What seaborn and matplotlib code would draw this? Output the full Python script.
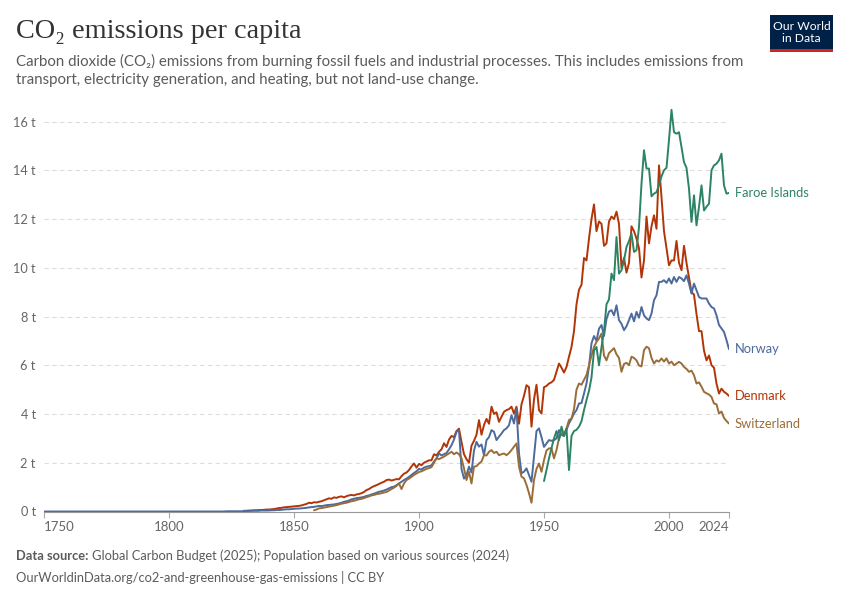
import matplotlib
matplotlib.use("Agg")
import matplotlib.pyplot as plt
import pandas as pd
import seaborn as sns
from matplotlib.patches import Rectangle

# ── Data: CO2 per capita (tonnes) ───────────────────────────────────────────
NORWAY_START = 1750
norway = [
    # 1750-1829: flat at zero
    0.0, 0.0, 0.0, 0.0, 0.0, 0.0, 0.0, 0.0, 0.0, 0.0,
    0.0, 0.0, 0.0, 0.0, 0.0, 0.0, 0.0, 0.0, 0.0, 0.0,
    0.0, 0.0, 0.0, 0.0, 0.0, 0.0, 0.0, 0.0, 0.0, 0.0,
    0.0, 0.0, 0.0, 0.0, 0.0, 0.0, 0.0, 0.0, 0.0, 0.0,
    0.0, 0.0, 0.0, 0.0, 0.0, 0.0, 0.0, 0.0, 0.0, 0.0,
    0.0, 0.0, 0.0, 0.0, 0.0, 0.0, 0.0, 0.0, 0.0, 0.0,
    0.0, 0.0, 0.0, 0.0, 0.0, 0.0, 0.0, 0.0, 0.0, 0.0,
    0.0, 0.0, 0.0, 0.01, 0.01, 0.01, 0.01, 0.01, 0.01, 0.01,
    0.02, 0.02, 0.02, 0.03, 0.03, 0.03, 0.03, 0.04, 0.04, 0.04,  # 1830s
    0.04, 0.05, 0.05, 0.06, 0.06, 0.07, 0.08, 0.09, 0.09, 0.10,
    0.11, 0.12, 0.12, 0.13, 0.14, 0.15, 0.17, 0.18, 0.19, 0.21,
    0.23, 0.22, 0.24, 0.26, 0.27, 0.28, 0.29, 0.31, 0.33, 0.36,
    0.40, 0.42, 0.45, 0.50, 0.52, 0.55, 0.56, 0.58, 0.60, 0.64,
    0.66, 0.70, 0.73, 0.77, 0.81, 0.83, 0.86, 0.90, 0.95, 1.00,
    1.02, 1.08, 1.15, 1.22, 1.29, 1.35, 1.42, 1.50, 1.58, 1.65,
    1.75, 1.72, 1.80, 1.84, 1.86, 1.90, 2.05, 2.18, 2.38, 2.30,  # 1900s
    2.35, 2.40, 2.55, 2.72, 2.95, 3.27, 3.34, 1.75, 1.35, 1.50,
    1.84, 1.60, 2.50, 2.86, 2.66, 2.75, 2.31, 2.93, 3.05, 3.34,
    3.27, 2.93, 3.07, 3.20, 3.34, 3.41, 3.54, 3.95, 3.61, 4.23,
    2.38, 1.57, 1.63, 1.77, 1.50, 1.22, 2.25, 3.30, 3.41, 3.05,
    2.65, 2.79, 2.93, 2.90, 2.93, 3.00, 3.34, 3.14, 3.10, 3.35,
    3.62, 3.80, 4.02, 4.16, 4.43, 4.45, 4.84, 5.25, 5.95, 6.90,
    7.20, 7.00, 7.50, 7.65, 7.20, 7.90, 8.20, 8.26, 8.05, 8.46,
    7.85, 7.70, 7.44, 7.60, 7.85, 8.12, 7.80, 8.19, 7.95, 8.39,
    8.05, 7.92, 7.85, 8.12, 8.67, 8.87, 9.42, 9.42, 9.49, 9.38,
    9.56, 9.35, 9.62, 9.42, 9.62, 9.56, 9.45, 9.69, 9.35, 8.94,  # 2000s
    9.35, 9.08, 8.80, 8.74, 8.74, 8.74, 8.53, 8.39, 8.33, 8.05,
    7.65, 7.51, 7.37, 7.03, 6.66,
]

DENMARK_START = 1830
denmark = [
    0.03, 0.03, 0.04, 0.04, 0.05, 0.05, 0.06, 0.06, 0.07, 0.08,  # 1830s
    0.08, 0.09, 0.10, 0.12, 0.14, 0.15, 0.17, 0.18, 0.19, 0.20,
    0.21, 0.22, 0.23, 0.25, 0.28, 0.31, 0.36, 0.34, 0.38, 0.37,
    0.40, 0.42, 0.46, 0.50, 0.54, 0.52, 0.58, 0.56, 0.60, 0.62,
    0.58, 0.63, 0.66, 0.68, 0.66, 0.70, 0.72, 0.75, 0.80, 0.88,
    0.92, 0.99, 1.04, 1.08, 1.13, 1.18, 1.22, 1.29, 1.31, 1.27,
    1.30, 1.33, 1.32, 1.45, 1.55, 1.60, 1.70, 1.85, 1.97, 1.80,
    1.95, 1.90, 2.00, 2.05, 2.10, 2.10, 2.35, 2.30, 2.45, 2.55,  # 1900s
    2.80, 2.65, 2.95, 3.10, 3.05, 3.30, 3.40, 2.85, 2.35, 2.15,
    2.00, 2.70, 2.90, 3.15, 3.75, 3.15, 3.55, 3.80, 3.60, 4.30,
    4.00, 4.07, 3.68, 3.89, 4.09, 4.16, 4.20, 4.30, 4.02, 4.30,
    3.60, 4.40, 4.75, 5.18, 5.10, 3.48, 4.60, 5.20, 4.16, 4.02,
    5.10, 5.15, 5.25, 5.30, 5.40, 5.73, 6.07, 5.90, 5.70, 5.93,
    6.35, 6.75, 7.40, 8.50, 9.10, 9.30, 10.40, 10.30, 11.20, 12.00,
    12.60, 11.50, 11.90, 11.80, 10.90, 11.00, 11.90, 12.10, 12.00, 12.30,
    11.80, 10.00, 10.40, 9.80, 10.20, 11.70, 11.50, 11.20, 10.80, 9.60,
    10.30, 12.10, 11.00, 11.70, 12.15, 11.60, 14.20, 12.90, 11.50, 10.80,
    10.10, 10.30, 10.30, 11.10, 10.20, 9.90, 10.90, 10.20, 9.60, 9.00,  # 2000s
    8.90, 8.10, 7.40, 7.40, 6.60, 6.20, 6.40, 6.00, 5.90, 5.25,
    4.84, 5.04, 4.91, 4.84, 4.74,
]

SWITZERLAND_START = 1858
switzerland = [
    0.05, 0.08,
    0.13, 0.14, 0.16, 0.18, 0.20, 0.22, 0.24, 0.26, 0.29, 0.32,  # 1860s
    0.34, 0.36, 0.39, 0.42, 0.44, 0.47, 0.50, 0.52, 0.55, 0.59,
    0.62, 0.66, 0.68, 0.71, 0.73, 0.75, 0.78, 0.80, 0.86, 0.92,
    0.98, 1.05, 1.15, 0.92, 1.15, 1.29, 1.35, 1.42, 1.50, 1.56,
    1.62, 1.65, 1.70, 1.75, 1.78, 1.82, 2.00, 2.18, 2.15, 2.20,  # 1900s
    2.25, 2.32, 2.38, 2.45, 2.35, 2.42, 2.35, 2.18, 1.77, 1.29,
    1.63, 1.15, 1.84, 1.86, 1.97, 2.05, 2.31, 2.30, 2.45, 2.52,
    2.40, 2.45, 2.31, 2.35, 2.38, 2.31, 2.40, 2.52, 2.66, 2.79,
    1.84, 1.43, 1.36, 1.09, 0.75, 0.36, 1.29, 1.75, 1.97, 1.63,
    2.11, 2.50, 2.59, 2.59, 2.18, 2.52, 3.00, 3.20, 3.15, 3.41,
    3.75, 3.82, 4.20, 5.00, 5.25, 5.20, 5.40, 5.60, 6.00, 6.40,
    6.75, 6.96, 7.10, 7.30, 6.40, 6.20, 6.50, 6.60, 6.70, 6.45,
    6.30, 5.73, 6.05, 6.10, 6.00, 6.35, 6.30, 6.20, 5.99, 5.95,
    6.62, 6.76, 6.70, 6.30, 6.07, 6.20, 6.15, 6.28, 6.15, 6.28,
    6.07, 6.15, 6.00, 6.07, 6.14, 6.07, 5.93, 5.85, 5.73, 5.78,  # 2000s
    5.59, 5.25, 5.30, 5.12, 4.91, 4.85, 4.80, 4.70, 4.43, 4.40,
    4.02, 4.10, 3.84, 3.71, 3.61,
]

FAROE_START = 1950
faroe = [
    1.25, 1.70, 2.18, 2.60, 3.00, 3.30, 2.93, 3.48, 3.10, 3.40,  # 1950s
    1.70, 3.10, 3.30, 3.35, 3.48, 3.70, 4.16, 4.57, 4.95, 5.50,
    6.60, 6.75, 6.00, 6.75, 7.40, 8.50, 8.70, 9.76, 9.49, 11.26,
    9.76, 9.90, 10.30, 10.85, 11.10, 11.40, 10.65, 10.72, 11.67, 13.45,
    14.82, 14.07, 14.07, 12.93, 13.04, 13.10, 13.40, 13.75, 14.00, 14.10,
    15.25, 16.48, 15.56, 15.50, 15.56, 14.95, 14.33, 14.10, 13.24, 11.88,
    12.97, 11.74, 12.50, 13.38, 12.35, 12.50, 12.63, 14.00, 14.20, 14.27,
    14.41, 14.68, 13.38, 13.04, 13.07,
]

COLORS = {
    "Faroe Islands": "#2c8465",
    "Norway": "#4c6a9c",
    "Denmark": "#b13507",
    "Switzerland": "#996d39",
}
X_TICKS = [1750, 1800, 1850, 1900, 1950, 2000, 2024]
Y_TICKS = [0, 2, 4, 6, 8, 10, 12, 14, 16]

TITLE = "CO\u2082 emissions per capita"
SUBTITLE = [
    "Carbon dioxide (CO\u2082) emissions from burning fossil fuels and industrial processes. This includes emissions from",
    "transport, electricity generation, and heating, but not land-use change.",
]
SOURCE = "Global Carbon Budget (2025); Population based on various sources (2024)"
URL = "OurWorldinData.org/co2-and-greenhouse-gas-emissions | CC BY"

# ── Long-form table for seaborn ──────────────────────────────────────────────
series = {
    "Faroe Islands": (FAROE_START, faroe),
    "Norway": (NORWAY_START, norway),
    "Denmark": (DENMARK_START, denmark),
    "Switzerland": (SWITZERLAND_START, switzerland),
}
frames = []
for name, (start, vals) in series.items():
    frames.append(pd.DataFrame({
        "year": list(range(start, start + len(vals))),
        "value": vals,
        "country": name,
    }))
df = pd.concat(frames, ignore_index=True)

# ── Figure ───────────────────────────────────────────────────────────────────
sns.set_theme(style="white")
plt.rcParams["font.family"] = ["Lato", "DejaVu Sans"]

W, H = 850, 600
fig = plt.figure(figsize=(W / 100, H / 100), dpi=100)

y0_px, px_per_t, ymax = 511.5, 24.375, 16.6
top_px = y0_px - ymax * px_per_t
ax = fig.add_axes([44 / W, (H - y0_px) / H, 685 / W, (y0_px - top_px) / H])

sns.lineplot(
    data=df, x="year", y="value", hue="country",
    hue_order=["Denmark", "Norway", "Switzerland", "Faroe Islands"],
    palette=COLORS, linewidth=1.4, errorbar=None, legend=False, ax=ax,
)

ax.set_xlim(1750, 2024)
ax.set_ylim(0, ymax)
ax.set_xlabel("")
ax.set_ylabel("")

ax.set_yticks(Y_TICKS)
ax.set_yticklabels([f"{v} t" for v in Y_TICKS])
ax.set_xticks(X_TICKS)
ax.set_xticklabels([str(v) for v in X_TICKS])
# end labels stay inside the axis span, like the original
xlabels = ax.get_xticklabels()
xlabels[0].set_horizontalalignment("left")
xlabels[-1].set_horizontalalignment("right")
ax.tick_params(axis="y", length=0, pad=6, labelsize=9.2, labelcolor="#666666")
ax.tick_params(axis="x", length=4, width=0.8, color="#aaaaaa", pad=3,
               labelsize=9.5, labelcolor="#666666", bottom=True)

ax.yaxis.grid(True, linestyle=(0, (4, 3)), color="#dddddd", linewidth=0.8)
ax.xaxis.grid(False)
ax.set_axisbelow(True)
for side in ["top", "right", "left"]:
    ax.spines[side].set_visible(False)
ax.spines["bottom"].set_color("#999999")
ax.spines["bottom"].set_linewidth(0.8)

# Line-end labels
for name, (start, vals) in series.items():
    ax.annotate(name, xy=(start + len(vals) - 1, vals[-1]), xytext=(4, 0),
                textcoords="offset points", va="center", ha="left",
                fontsize=9.3, color=COLORS[name], annotation_clip=False)

# ── Header ───────────────────────────────────────────────────────────────────
fig.text(16 / W, 1 - 32 / H, TITLE, family=["Liberation Serif", "DejaVu Serif"],
         fontsize=20.3, color="#333333", va="center", ha="left")
for i, line in enumerate(SUBTITLE):
    fig.text(16 / W, 1 - (61 + 19 * i) / H, line, fontsize=10.8,
             color="#5b5b5b", va="center", ha="left")

# OWID logo
fig.add_artist(Rectangle((770 / W, 1 - 49 / H), 63 / W, 34 / H,
                         transform=fig.transFigure, color="#002147", lw=0))
fig.add_artist(Rectangle((770 / W, 1 - 52 / H), 63 / W, 3 / H,
                         transform=fig.transFigure, color="#ce261e", lw=0))
fig.text(801.5 / W, 1 - 26 / H, "Our World", fontsize=8.7, color="white",
         ha="center", va="center")
fig.text(801.5 / W, 1 - 39 / H, "in Data", fontsize=8.7, color="white",
         ha="center", va="center")

# ── Footer ───────────────────────────────────────────────────────────────────
bold = fig.text(16 / W, 1 - 556 / H, "Data source:", fontsize=9.3,
                fontweight="bold", color="#5b5b5b", va="center", ha="left")
fig.canvas.draw()
bb = bold.get_window_extent(renderer=fig.canvas.get_renderer())
fig.text((bb.x1 + 4) / W, 1 - 556 / H, SOURCE, fontsize=9.3, color="#5b5b5b",
         va="center", ha="left")
fig.text(16 / W, 1 - 577 / H, URL, fontsize=9.3, color="#5b5b5b",
         va="center", ha="left")

fig.savefig("out.png", dpi=100)
plt.close(fig)
